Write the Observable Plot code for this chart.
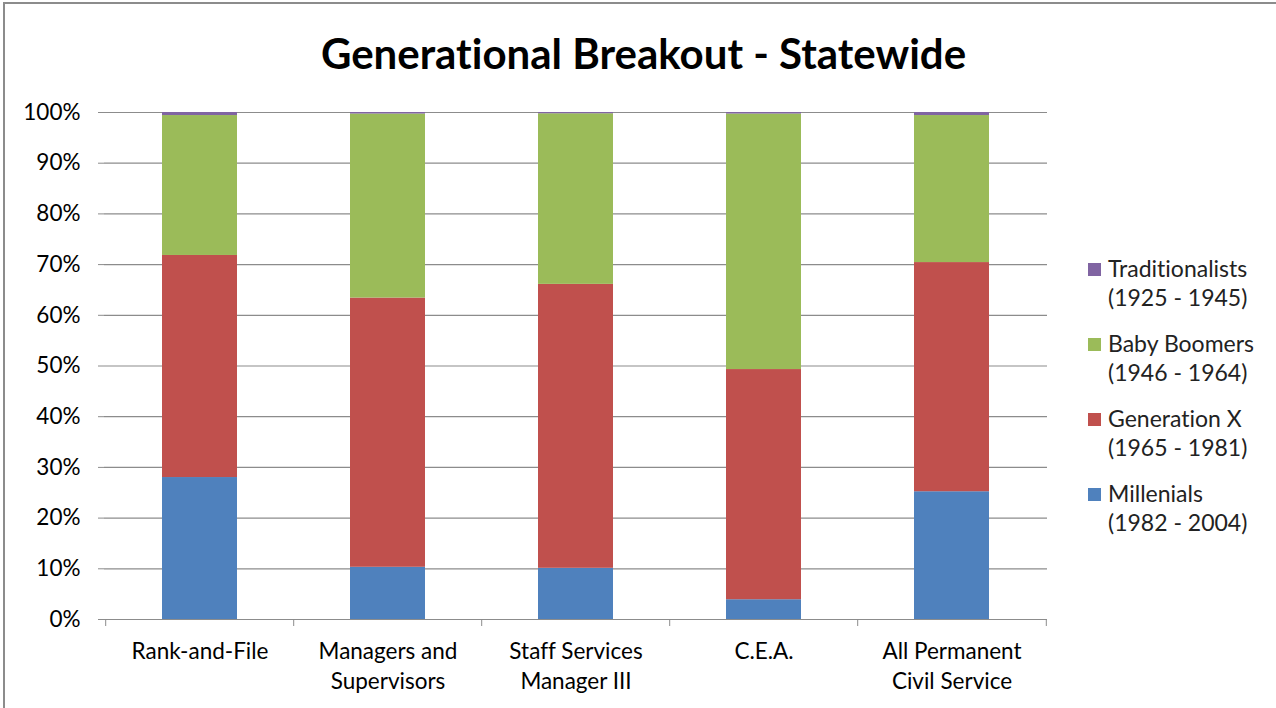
<!DOCTYPE html>
<html>
<head>
<meta charset="utf-8">
<script src="https://cdn.jsdelivr.net/npm/d3@7"></script>
<script src="https://cdn.jsdelivr.net/npm/@observablehq/plot@0.6"></script>
<style>
  html, body { margin: 0; padding: 0; background: #fff; }
  #wrap { position: relative; width: 1276px; height: 708px; overflow: hidden; font-family: Lato, "Open Sans", sans-serif; background: #fff; font-variant-ligatures: none; }
  #frame { position: absolute; left: 3px; top: 2px; width: 1300px; height: 800px; border-left: 2px solid #8c8c8c; border-top: 2px solid #8c8c8c; z-index: 2; pointer-events: none; }
  #title { position: absolute; left: 0; top: 28px; width: 1287px; text-align: center; font-size: 42px; font-weight: bold; color: #000; font-variant-ligatures: none; }
  #chart { position: absolute; left: 0; top: 80px; }
  #legend { position: absolute; left: 1088px; top: 254px; font-size: 23px; color: #222; }
  .item { position: relative; padding-left: 20px; height: 75px; line-height: 29px; }
  .sw { position: absolute; left: 0; top: 9px; width: 13px; height: 13px; }
  svg text { font-variant-ligatures: none; }
</style>
</head>
<body>
<div id="wrap">
  <div id="frame"></div>
  <div id="title">Generational Breakout - Statewide</div>
  <div id="chart"></div>
  <div id="legend"></div>
</div>
<script>
const categories = ["Rank-and-File", "Managers and Supervisors", "Staff Services Manager III", "C.E.A.", "All Permanent Civil Service"];
const categoryLabels = ["Rank-and-File", "Managers and\nSupervisors", "Staff Services\nManager III", "C.E.A.", "All Permanent\nCivil Service"];
const series = ["Millenials", "Generation X", "Baby Boomers", "Traditionalists"];
const seriesYears = ["(1982 - 2004)", "(1965 - 1981)", "(1946 - 1964)", "(1925 - 1945)"];
const millenials = [28.0, 10.3, 10.1, 3.9, 25.2];
const generationX = [43.8, 53.1, 56.0, 45.4, 45.2];
const babyBoomers = [27.6, 36.3, 33.65, 50.4, 29.0];
const traditionalists = [0.6, 0.3, 0.25, 0.3, 0.6];
const colors = ["#4F81BD", "#C0504D", "#9BBB59", "#8064A2"];
const yTicks = [0, 10, 20, 30, 40, 50, 60, 70, 80, 90, 100];

const values = [millenials, generationX, babyBoomers, traditionalists];
const rows = [];
series.forEach((s, i) => categories.forEach((c, j) => rows.push({series: s, category: c, value: values[i][j]})));

const W = 1276, H = 628, ML = 104, MR = 229, MT = 32, MB = 89;
const step = (W - ML - MR) / categories.length;
const labelOf = new Map(categories.map((c, i) => [c, categoryLabels[i]]));

const chart = Plot.plot({
  width: W, height: H,
  marginLeft: ML, marginRight: MR, marginTop: MT, marginBottom: MB,
  style: {fontFamily: "Lato, 'Open Sans', sans-serif", fontSize: "22px", color: "#000", background: "transparent"},
  x: {domain: categories, paddingInner: 0.6, paddingOuter: 0.3, label: null},
  y: {domain: [0, 100], ticks: yTicks, label: null},
  color: {domain: series, range: colors},
  marks: [
    Plot.gridY(yTicks.filter(d => d > 0), {stroke: "#8c8c8c", strokeOpacity: 1, strokeWidth: 1.2}),
    Plot.barY(rows, {x: "category", y: "value", fill: "series", order: series}),
    Plot.axisY(yTicks, {tickSize: 6, tickPadding: 18, tickFormat: d => d + "%", stroke: "#8c8c8c", fill: "#000", fontSize: 22.5, line: true}),
    Plot.ruleY([0], {stroke: "#8c8c8c", strokeWidth: 1.2}),
    Plot.axisX(categories, {tickSize: 7, tickFormat: () => "", dx: -step / 2, stroke: "#8c8c8c"}),
    Plot.axisX([categories[categories.length - 1]], {tickSize: 7, tickFormat: () => "", dx: step / 2, stroke: "#8c8c8c"}),
    Plot.axisX(categories, {tickSize: 0, tickPadding: 18, tickFormat: d => labelOf.get(d), fill: "#000", fontSize: 22.5, lineHeight: 1.33})
  ]
});
document.getElementById("chart").appendChild(chart);

const legend = document.getElementById("legend");
for (let i = series.length - 1; i >= 0; i--) {
  const item = document.createElement("div");
  item.className = "item";
  const sw = document.createElement("span");
  sw.className = "sw";
  sw.style.background = colors[i];
  item.appendChild(sw);
  const t1 = document.createElement("div");
  t1.textContent = series[i];
  const t2 = document.createElement("div");
  t2.textContent = seriesYears[i];
  item.appendChild(t1);
  item.appendChild(t2);
  legend.appendChild(item);
}
</script>
</body>
</html>
